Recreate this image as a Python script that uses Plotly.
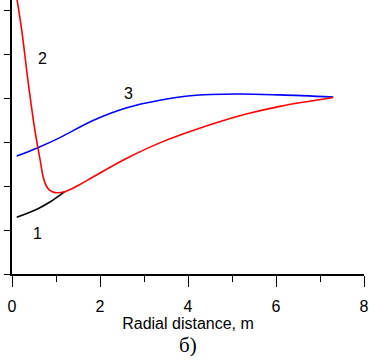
import plotly.graph_objects as go

# Curve 1 (black)
x1 = [0.107, 0.35, 0.60, 0.90, 1.20]
y1 = [1.29, 1.38, 1.49, 1.66, 1.87]

# Curve 2 (red)
x2 = [0.08, 0.22, 0.37, 0.52, 0.64, 0.71, 0.78, 0.86, 0.98, 1.20, 1.50, 1.85, 2.61, 3.36, 4.50, 5.30, 6.09, 7.3]
y2 = [6.45, 5.55, 4.34, 3.27, 2.59, 2.20, 2.00, 1.90, 1.85, 1.87, 2.01, 2.21, 2.63, 2.98, 3.39, 3.63, 3.81, 4.01]

# Curve 3 (blue)
x3 = [0.107, 0.56, 1.09, 1.84, 2.61, 3.36, 4.05, 5.11, 6.09, 7.3]
y3 = [2.68, 2.86, 3.10, 3.49, 3.78, 3.95, 4.05, 4.09, 4.07, 4.02]

labels = ["1", "2", "3"]
label_x = [0.59, 0.70, 2.64]
label_y = [0.93, 4.89, 4.11]

x_ticks = [0, 2, 4, 6, 8]

fig = go.Figure()
fig.add_trace(go.Scatter(x=x1, y=y1, mode="lines", line=dict(color="black", width=1.6, shape="spline", smoothing=1.0)))
fig.add_trace(go.Scatter(x=x3, y=y3, mode="lines", line=dict(color="#0000ff", width=1.6, shape="spline", smoothing=1.0)))
fig.add_trace(go.Scatter(x=x2, y=y2, mode="lines", line=dict(color="#ff0000", width=1.6, shape="spline", smoothing=1.0)))

for t, lx, ly in zip(labels, label_x, label_y):
    fig.add_annotation(x=lx, y=ly, text=t, showarrow=False,
                       font=dict(family="Liberation Sans", size=16, color="black"))

fig.add_annotation(xref="paper", yref="paper", x=0.5, y=-0.259, text="б)", showarrow=False,
                   yanchor="middle", font=dict(family="Liberation Serif", size=21, color="black"))

fig.update_layout(
    width=369, height=361,
    margin=dict(l=12, r=5, t=0, b=87),
    paper_bgcolor="white", plot_bgcolor="white",
    showlegend=False,
    font=dict(family="Liberation Sans", size=16, color="black"),
)
fig.update_xaxes(
    range=[0, 8], tickvals=x_ticks, ticktext=[str(v) for v in x_ticks],
    automargin=False,
    showgrid=False, zeroline=False, showline=True, linecolor="black", linewidth=1.5,
    ticks="outside", ticklen=11, tickwidth=1.2, tickcolor="black",
    ticklabelstandoff=6,
    minor=dict(dtick=1, ticks="outside", ticklen=6, tickwidth=1.2, tickcolor="black"),
    tickfont=dict(family="Liberation Sans", size=16),
    title=dict(text="Radial distance, m", standoff=2, font=dict(family="Liberation Sans", size=16)),
)
fig.update_yaxes(
    range=[0, 274/44], dtick=1, tick0=0, showticklabels=False, automargin=False,
    showgrid=False, zeroline=False, showline=True, linecolor="black", linewidth=1.5,
    ticks="outside", ticklen=6, tickwidth=1.2, tickcolor="black",
)

fig.write_html("out.html", config={"displayModeBar": False},
               post_script="document.body.style.margin='0';")
